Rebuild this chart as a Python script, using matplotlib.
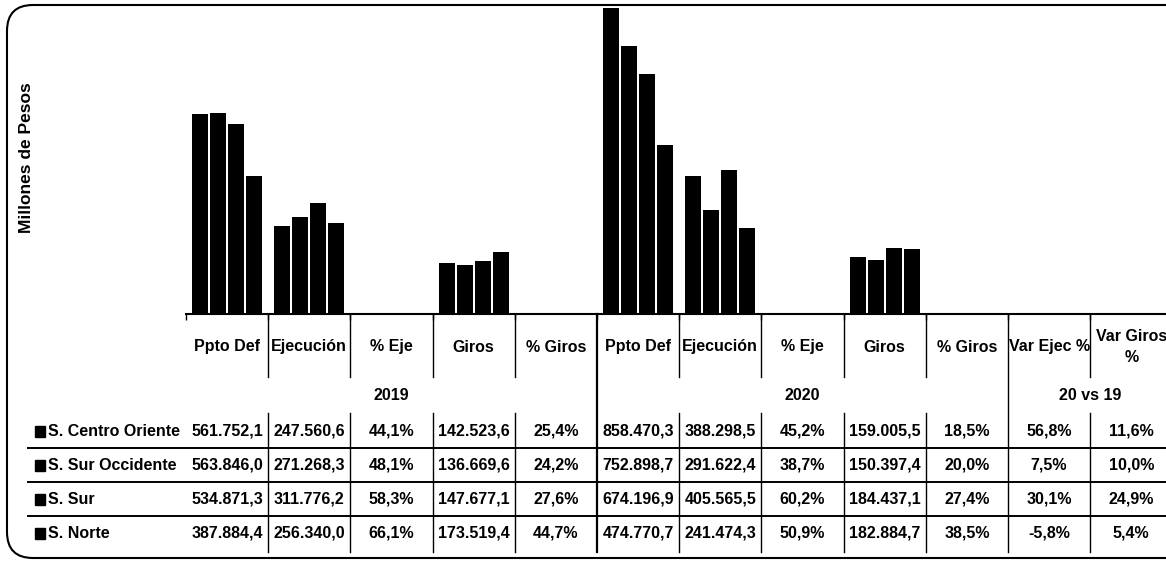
import numpy as np
import matplotlib
matplotlib.use('Agg')
from matplotlib import pyplot as plt
from matplotlib.patches import FancyBboxPatch, Rectangle

###########################################################

series = ['S. Centro Oriente', 'S. Sur Occidente', 'S. Sur', 'S. Norte']
categories = ['Ppto Def', 'Ejecución', '% Eje', 'Giros', '% Giros',
              'Ppto Def', 'Ejecución', '% Eje', 'Giros', '% Giros',
              'Var Ejec %', 'Var Giros\n%']
groups = [('2019', 2), ('2020', 7), ('20 vs 19', 10.5)]

ppto_2019 = [561752.1, 563846.0, 534871.3, 387884.4]
ejec_2019 = [247560.6, 271268.3, 311776.2, 256340.0]
pct_eje_2019 = [44.1, 48.1, 58.3, 66.1]
giros_2019 = [142523.6, 136669.6, 147677.1, 173519.4]
pct_giros_2019 = [25.4, 24.2, 27.6, 44.7]

ppto_2020 = [858470.3, 752898.7, 674196.9, 474770.7]
ejec_2020 = [388298.5, 291622.4, 405565.5, 241474.3]
pct_eje_2020 = [45.2, 38.7, 60.2, 50.9]
giros_2020 = [159005.5, 150397.4, 184437.1, 182884.7]
pct_giros_2020 = [18.5, 20.0, 27.4, 38.5]

var_ejec = [56.8, 7.5, 30.1, -5.8]
var_giros = [11.6, 10.0, 24.9, 5.4]

###########################################################

columns = [ppto_2019, ejec_2019, pct_eje_2019, giros_2019, pct_giros_2019,
           ppto_2020, ejec_2020, pct_eje_2020, giros_2020, pct_giros_2020,
           var_ejec, var_giros]
isPct = [False, False, True, False, True, False, False, True, False, True, True, True]

def fmtNum(v):
    s = f'{v:,.1f}'
    return s.replace(',', 'X').replace('.', ',').replace('X', '.')

def fmtPct(v):
    return f'{v:.1f}'.replace('.', ',') + '%'

FONT = 'Liberation Sans'
W, H = 1166, 564
colL, colW = 186.0, 82.2
baseY = 314.0
pxPerUnit = 0.356 / 1000.0

my_dpi = 100
fig = plt.figure(figsize=(W/my_dpi, H/my_dpi), dpi=my_dpi)

# bar area, in pixels converted to figure fraction
ax = fig.add_axes([colL/W, 1 - baseY/H, 12*colW/W, baseY/H])
x = np.arange(len(categories))
pitch = 0.219
for i, name in enumerate(series):
    vals = [col[i]/100.0 if pct else col[i] for col, pct in zip(columns, isPct)]
    ax.bar(x + (i - 1.5)*pitch, vals, width=0.195, color='black', linewidth=0)
ax.set_xlim(-0.5, len(categories) - 0.5)
ax.set_ylim(0, baseY/pxPerUnit)
ax.set_xticks(np.arange(len(categories) + 1) - 0.5)
ax.set_xticklabels([])
ax.tick_params(axis='x', length=4, width=1, color='black')
ax.set_yticks([])
for sp in ['top', 'right', 'left']:
    ax.spines[sp].set_visible(False)
ax.spines['bottom'].set_linewidth(1.5)
ax.patch.set_alpha(0)

# overlay in pixel coordinates for the data table
ov = fig.add_axes([0, 0, 1, 1])
ov.set_xlim(0, W)
ov.set_ylim(H, 0)
ov.axis('off')
ov.patch.set_alpha(0)

ov.add_patch(FancyBboxPatch((7, 5), 1200, 553, boxstyle='round,pad=0,rounding_size=26',
                            fill=False, edgecolor='black', linewidth=1.5))

ov.text(27, 158, 'Millones de Pesos', rotation=90, ha='center', va='center',
        fontsize=12.5, fontweight='bold', family=FONT)

headerY = 347
yearY = 396
rowY = [431, 465, 499, 533]
lineY = [448, 482, 516]

for k, cat in enumerate(categories):
    cx = colL + colW*(k + 0.5)
    ov.text(cx, headerY, cat, ha='center', va='center', fontsize=11.5, fontweight='bold',
            family=FONT, linespacing=1.5)
    for r in range(len(series)):
        v = columns[k][r]
        txt = fmtPct(v) if isPct[k] else fmtNum(v)
        ov.text(cx, rowY[r], txt, ha='center', va='center', fontsize=11.5,
                fontweight='bold', family=FONT)

for label, pos in groups:
    ov.text(colL + colW*(pos + 0.5), yearY, label, ha='center', va='center',
            fontsize=11.5, fontweight='bold', family=FONT)

for r, name in enumerate(series):
    ov.add_patch(Rectangle((35, rowY[r] - 5.5), 10, 11, color='black'))
    ov.text(48, rowY[r], name, ha='left', va='center', fontsize=11.5,
            fontweight='bold', family=FONT)

for ly in lineY:
    ov.plot([28, W], [ly, ly], color='black', linewidth=1.4)

for k in range(1, len(categories)):
    bx = colL + colW*k
    if k in (5, 10):
        ov.plot([bx, bx], [baseY, 552], color='black', linewidth=1.6 if k == 5 else 1.0)
    else:
        ov.plot([bx, bx], [baseY, 377], color='black', linewidth=1.0)
        ov.plot([bx, bx], [413, 552], color='black', linewidth=1.0)

plt.savefig('out.png', dpi=my_dpi)
